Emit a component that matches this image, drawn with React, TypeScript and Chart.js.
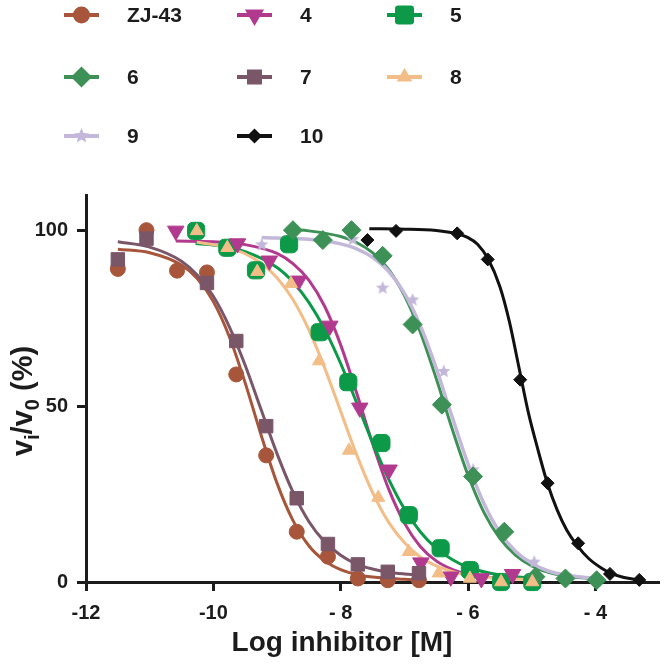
import React, { useEffect, useRef } from 'react';
import { Chart, registerables } from 'chart.js';

Chart.register(...registerables);

// ---------------- data ----------------
const seriesNames = ['ZJ-43', '4', '5', '6', '7', '8', '9', '10'];

const xTickValues = [-12, -10, -8, -6, -4];
const xTickLabels = ['-12', '-10', '- 8', '- 6', '- 4'];
const yTickValues = [0, 50, 100];
const yTickLabels = ['0', '50', '100'];
const xAxisTitle = 'Log inhibitor [M]';

// measured points
const zj43X = [-11.5, -11.05, -10.57, -10.1, -9.64, -9.17, -8.69, -8.2, -7.73, -7.26, -6.77];
const zj43Y = [89, 100, 88.5, 88, 59, 36, 14.3, 7.2, 1, 0.5, 0.5];
const c4X = [-10.59, -9.62, -9.12, -8.66, -8.17, -7.7, -7.24, -6.74, -6.27, -5.79, -5.3];
const c4Y = [99.8, 96.2, 91.3, 85.6, 72.8, 49.5, 31.9, 5.5, 1.5, 1.0, 2.2];
const c5X = [-10.27, -9.78, -9.33, -8.81, -8.33, -7.88, -7.36, -6.93, -6.43, -5.97, -5.48, -4.99];
const c5Y = [99.8, 95, 88.6, 96, 71, 56.8, 39.5, 19, 9.6, 3.4, 0, 0];
const c6X = [-8.75, -8.28, -7.83, -7.34, -6.87, -6.41, -5.92, -5.43, -4.94, -4.47, -3.98];
const c6Y = [100, 97.2, 100, 92.7, 73.2, 50.4, 30, 14.3, 1.5, 1, 0.5];
const c7X = [-11.5, -11.05, -10.1, -9.64, -9.17, -8.69, -8.2, -7.73, -7.26, -6.77];
const c7Y = [91.7, 97.6, 85, 68.5, 44.3, 23.8, 10.8, 5, 2.9, 2.5];
const c8X = [-10.26, -9.78, -9.31, -8.78, -8.34, -7.87, -7.41, -6.93, -6.46, -5.97, -5.48, -4.99];
const c8Y = [99.8, 95, 88.2, 84.8, 62.8, 37.4, 24, 8.6, 2.5, 1, 0, 0];
const c9X = [-9.24, -8.76, -8.29, -7.81, -7.34, -6.87, -6.38, -5.92, -5.43, -4.96, -4.47, -3.98];
const c9Y = [96, 97, 97, 97.5, 83.7, 80.3, 60, 32, 15, 5.8, 2, 1];
const c10X = [-7.58, -7.13, -6.17, -5.69, -5.18, -4.75, -4.27, -3.77, -3.31];
const c10Y = [97.2, 99.8, 99.1, 91.7, 57.5, 28.1, 11, 2.3, 0.6];

// fitted curves
const zj43CurveX = [-11.5, -11, -10.5, -10.25, -10, -9.75, -9.5, -9.25, -9, -8.75, -8.5, -8.25, -8, -7.75, -7.5, -7, -6.77];
const zj43CurveY = [94.6, 93.6, 90.1, 86.2, 79.7, 69.8, 56.6, 41.8, 28.1, 17.5, 10.3, 6.0, 3.5, 2.1, 1.4, 0.75, 0.6];
const c4CurveX = [-10.59, -10, -9.5, -9, -8.75, -8.5, -8.25, -8, -7.75, -7.5, -7.25, -7, -6.75, -6.5, -6.25, -6, -5.5, -5.3];
const c4CurveY = [96.9, 96.7, 95.9, 93.4, 90.5, 85.8, 78.3, 67.4, 53.8, 39.4, 26.6, 16.8, 10.1, 6.0, 3.6, 2.2, 1.0, 0.8];
const c5CurveX = [-10.28, -10, -9.5, -9, -8.75, -8.5, -8.25, -8, -7.75, -7.5, -7.25, -7, -6.75, -6.5, -6.25, -6, -5.5, -4.99];
const c5CurveY = [96.2, 95.8, 93.9, 89.4, 85.3, 79.5, 71.8, 62.1, 51.0, 39.7, 29.4, 20.8, 14.3, 9.6, 6.4, 4.2, 2.0, 1.1];
const c6CurveX = [-8.75, -8.5, -8, -7.75, -7.5, -7.25, -7, -6.75, -6.5, -6.25, -6, -5.75, -5.5, -5.25, -5, -4.75, -4.5, -3.98];
const c6CurveY = [100.1, 99.8, 98.2, 96.5, 93.6, 88.9, 81.5, 71.1, 57.9, 43.6, 30.4, 19.8, 12.4, 7.6, 4.6, 2.8, 1.8, 0.9];
const c7CurveX = [-11.5, -11, -10.5, -10.25, -10, -9.75, -9.5, -9.25, -9, -8.75, -8.5, -8.25, -8, -7.75, -7.5, -7.25, -7, -6.77];
const c7CurveY = [96.7, 95.2, 91.2, 87.2, 81.2, 72.6, 61.6, 49.0, 36.5, 25.6, 17.2, 11.4, 7.6, 5.1, 3.7, 2.8, 2.3, 2.0];
const c8CurveX = [-10.26, -10, -9.75, -9.5, -9.25, -9, -8.75, -8.5, -8.25, -8, -7.75, -7.5, -7.25, -7, -6.75, -6.5, -6.25, -6, -5.5, -4.99];
const c8CurveY = [96.6, 95.9, 94.9, 93.3, 90.6, 86.5, 80.3, 71.7, 60.8, 48.5, 36.2, 25.5, 17.1, 11.2, 7.1, 4.6, 3.0, 2.0, 1.0, 0.7];
const c9CurveX = [-9.24, -9, -8.5, -8, -7.75, -7.5, -7.25, -7, -6.75, -6.5, -6.25, -6, -5.75, -5.5, -5.25, -5, -4.75, -4.5, -3.98];
const c9CurveY = [97.9, 97.8, 97.4, 96.1, 94.7, 92.3, 88.4, 82.1, 72.9, 60.8, 47.0, 33.6, 22.3, 14.1, 8.7, 5.3, 3.2, 2.05, 1.0];
const c10CurveX = [-7.55, -7.0, -6.5, -6.18, -6.0, -5.85, -5.69, -5.5, -5.35, -5.2, -5.05, -4.9, -4.76, -4.6, -4.45, -4.29, -4.1, -3.9, -3.77, -3.55, -3.31];
const c10CurveY = [100.4, 100.3, 99.9, 99.0, 97.9, 96.0, 92.0, 84.0, 74.0, 61.0, 48.0, 37.5, 28.5, 20.5, 14.8, 10.5, 6.6, 3.9, 2.6, 1.3, 0.6];

const pointXs = [zj43X, c4X, c5X, c6X, c7X, c8X, c9X, c10X];
const pointYs = [zj43Y, c4Y, c5Y, c6Y, c7Y, c8Y, c9Y, c10Y];
const curveXs = [zj43CurveX, c4CurveX, c5CurveX, c6CurveX, c7CurveX, c8CurveX, c9CurveX, c10CurveX];
const curveYs = [zj43CurveY, c4CurveY, c5CurveY, c6CurveY, c7CurveY, c8CurveY, c9CurveY, c10CurveY];

// ---------------- styles ----------------
const FONT = '"Liberation Sans", Arial, Helvetica, sans-serif';
const INK = '#1c1c1c';

type Sty = {
  color: string; kind: string; r: number; legendR: number; order: number; lineW: number;
};
const styles: Sty[] = [
  { color: '#A7563B', kind: 'circle', r: 7.5, legendR: 8.5, order: 7, lineW: 3 },
  { color: '#B23A8E', kind: 'triDown', r: 9.5, legendR: 11, order: 5, lineW: 3 },
  { color: '#0D9A48', kind: 'roundSquare', r: 10, legendR: 9.5, order: 6, lineW: 3 },
  { color: '#3D9156', kind: 'diamond', r: 9.5, legendR: 10.5, order: 4, lineW: 3 },
  { color: '#7A5669', kind: 'square', r: 9.5, legendR: 7.5, order: 3, lineW: 3 },
  { color: '#F2BD87', kind: 'triUp', r: 7.5, legendR: 9, order: 2, lineW: 3 },
  { color: '#C3B8DA', kind: 'star', r: 7, legendR: 8, order: 8, lineW: 3.5 },
  { color: '#111111', kind: 'diamond', r: 6.5, legendR: 7.5, order: 1, lineW: 3 },
];

function starPath(ctx: CanvasRenderingContext2D, cx: number, cy: number, R: number) {
  const rIn = R * 0.45;
  ctx.beginPath();
  for (let i = 0; i < 10; i++) {
    const a = -Math.PI / 2 + (i * Math.PI) / 5;
    const rr = i % 2 === 0 ? R : rIn;
    const px = cx + Math.cos(a) * rr;
    const py = cy + Math.sin(a) * rr;
    if (i === 0) ctx.moveTo(px, py); else ctx.lineTo(px, py);
  }
  ctx.closePath();
}

function makeStarCanvas(R: number, color: string) {
  const c = document.createElement('canvas');
  const s = Math.ceil(R * 2 + 2);
  c.width = s; c.height = s;
  const g = c.getContext('2d')!;
  g.fillStyle = color;
  starPath(g, s / 2, s / 2 + 0.5, R);
  g.fill();
  return c;
}

function drawMarker(ctx: CanvasRenderingContext2D, kind: string, x: number, y: number, r: number, color: string) {
  ctx.fillStyle = color;
  ctx.beginPath();
  if (kind === 'circle') {
    ctx.arc(x, y, r, 0, Math.PI * 2);
  } else if (kind === 'triDown') {
    ctx.moveTo(x - r * 0.87, y - r * 0.5);
    ctx.lineTo(x + r * 0.87, y - r * 0.5);
    ctx.lineTo(x, y + r);
    ctx.closePath();
  } else if (kind === 'triUp') {
    ctx.moveTo(x - r * 0.87, y + r * 0.5);
    ctx.lineTo(x + r * 0.87, y + r * 0.5);
    ctx.lineTo(x, y - r);
    ctx.closePath();
  } else if (kind === 'roundSquare') {
    (ctx as any).roundRect(x - r, y - r, 2 * r, 2 * r, r * 0.35);
  } else if (kind === 'square') {
    ctx.rect(x - r, y - r, 2 * r, 2 * r);
  } else if (kind === 'diamond') {
    ctx.moveTo(x, y - r);
    ctx.lineTo(x + r, y);
    ctx.lineTo(x, y + r);
    ctx.lineTo(x - r, y);
    ctx.closePath();
  } else if (kind === 'star') {
    starPath(ctx, x, y, r);
  }
  ctx.fill();
}

const LEGEND_LINE_X = [64, 237, 387];
const LEGEND_TEXT_X = [127, 300, 450];
const LEGEND_ROW_Y = [15, 77, 136];

const decorPlugin = {
  id: 'decor',
  afterDraw(chart: any) {
    const ctx: CanvasRenderingContext2D = chart.ctx;
    ctx.save();
    // legend
    seriesNames.forEach((name, i) => {
      const st = styles[i];
      const col = i % 3;
      const row = Math.floor(i / 3);
      const lx = LEGEND_LINE_X[col];
      const ly = LEGEND_ROW_Y[row];
      ctx.strokeStyle = st.color;
      ctx.lineWidth = 4;
      ctx.beginPath();
      ctx.moveTo(lx, ly);
      ctx.lineTo(lx + 35, ly);
      ctx.stroke();
      drawMarker(ctx, st.kind, lx + 17.5, ly, st.legendR, st.color);
      ctx.fillStyle = INK;
      ctx.font = `bold 21px ${FONT}`;
      ctx.textBaseline = 'middle';
      ctx.textAlign = 'left';
      ctx.fillText(name, LEGEND_TEXT_X[col], ly + 1);
    });
    // x title
    ctx.fillStyle = INK;
    ctx.font = `bold 28px ${FONT}`;
    ctx.textAlign = 'center';
    ctx.textBaseline = 'alphabetic';
    ctx.fillText(xAxisTitle, 342, 651);
    // y title with subscripts
    ctx.save();
    ctx.translate(32, 401);
    ctx.rotate(-Math.PI / 2);
    const big = `bold 29px ${FONT}`;
    const small = `bold 20px ${FONT}`;
    const parts: [string, string, number][] = [
      ['v', big, 0], ['i', small, 7], ['/v', big, 0], ['0', small, 7], [' (%)', big, 0],
    ];
    let total = 0;
    const widths = parts.map(([t, f]) => { ctx.font = f; const w = ctx.measureText(t).width; total += w; return w; });
    let px = -total / 2;
    ctx.textAlign = 'left';
    parts.forEach(([t, f, dy], k) => {
      ctx.font = f;
      ctx.fillText(t, px, dy);
      px += widths[k];
    });
    ctx.restore();
    ctx.restore();
  },
};

export default function App() {
  const ref = useRef<HTMLCanvasElement | null>(null);
  useEffect(() => {
    if (!ref.current) return;
    const starImg = makeStarCanvas(7, styles[6].color);
    const datasets: any[] = [];
    seriesNames.forEach((name, i) => {
      const st = styles[i];
      let pointStyle: any = 'circle';
      let rotation = 0;
      const radius = st.r;
      if (st.kind === 'triDown') { pointStyle = 'triangle'; rotation = 180; }
      else if (st.kind === 'triUp') pointStyle = 'triangle';
      else if (st.kind === 'roundSquare') pointStyle = 'rectRounded';
      else if (st.kind === 'square') pointStyle = 'rect';
      else if (st.kind === 'diamond') pointStyle = 'rectRot';
      else if (st.kind === 'star') pointStyle = starImg;
      datasets.push({
        label: name,
        data: pointXs[i].map((x, k) => ({ x, y: pointYs[i][k] })),
        showLine: false,
        pointStyle,
        pointRotation: rotation,
        pointRadius: radius,
        pointBackgroundColor: st.color,
        pointBorderColor: st.color,
        pointBorderWidth: 1,
        order: st.order,
        clip: false,
      });
      datasets.push({
        label: name + ' fit',
        data: curveXs[i].map((x, k) => ({ x, y: curveYs[i][k] })),
        showLine: true,
        borderColor: st.color,
        borderWidth: st.lineW,
        pointRadius: 0,
        cubicInterpolationMode: 'monotone',
        fill: false,
        order: 20 + (i === 7 ? 0 : 10 - i),
        clip: false,
      });
    });
    const chart = new Chart(ref.current, {
      type: 'scatter',
      data: { datasets },
      options: {
        responsive: false,
        animation: false,
        events: [],
        layout: { padding: { top: 195, left: 0, right: 3, bottom: 0 } },
        plugins: { legend: { display: false }, tooltip: { enabled: false }, title: { display: false } },
        scales: {
          x: {
            type: 'linear',
            min: -12,
            max: -3,
            afterBuildTicks: (s: any) => { s.ticks = xTickValues.map((v) => ({ value: v })); },
            afterFit: (s: any) => { s.height = 86; },
            ticks: {
              color: INK,
              font: { family: FONT, size: 20, weight: 'bold' },
              padding: 10,
              maxRotation: 0,
              callback: (v: any) => { const k = xTickValues.indexOf(Number(v)); return k >= 0 ? xTickLabels[k] : ''; },
            },
            grid: { display: true, drawOnChartArea: false, drawTicks: true, tickLength: 9, tickWidth: 3, tickColor: INK },
            border: { display: true, width: 3, color: INK },
          },
          y: {
            type: 'linear',
            min: 0,
            max: 110,
            afterBuildTicks: (s: any) => { s.ticks = yTickValues.map((v) => ({ value: v })); },
            afterFit: (s: any) => { s.width = 86; },
            ticks: {
              color: INK,
              font: { family: FONT, size: 20, weight: 'bold' },
              padding: 9,
              callback: (v: any) => { const k = yTickValues.indexOf(Number(v)); return k >= 0 ? yTickLabels[k] : ''; },
            },
            grid: { display: true, drawOnChartArea: false, drawTicks: true, tickLength: 9, tickWidth: 3, tickColor: INK },
            border: { display: true, width: 3, color: INK },
          },
        },
      },
      plugins: [decorPlugin],
    });
    return () => chart.destroy();
  }, []);
  return (
    <div style={{ position: 'fixed', left: 0, top: 0, width: 670, height: 668, background: '#fff' }}>
      <canvas ref={ref} width={670} height={668} style={{ display: 'block' }} />
    </div>
  );
}
